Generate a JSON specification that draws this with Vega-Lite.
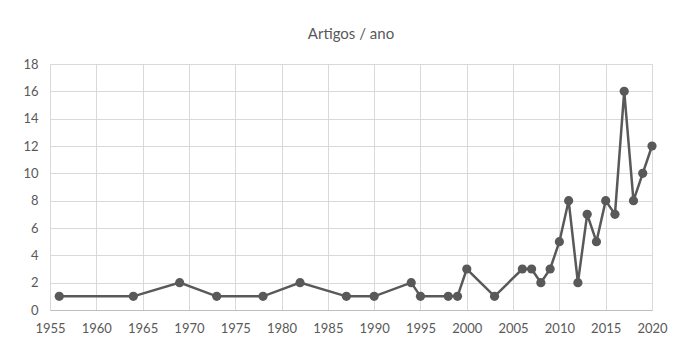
{
  "$schema": "https://vega.github.io/schema/vega-lite/v6.json",
  "width": 602,
  "height": 246,
  "autosize": {"type": "none"},
  "padding": {"left": 50, "top": 64, "right": 42, "bottom": 48},
  "background": "white",
  "title": {"text": "Artigos / ano", "font": "Lato", "fontSize": 15, "fontWeight": "normal", "color": "#595959", "offset": 16, "anchor": "middle"},
  "data": {"values": [
    {"ano": 1956, "artigos": 1}, {"ano": 1964, "artigos": 1}, {"ano": 1969, "artigos": 2},
    {"ano": 1973, "artigos": 1}, {"ano": 1978, "artigos": 1}, {"ano": 1982, "artigos": 2},
    {"ano": 1987, "artigos": 1}, {"ano": 1990, "artigos": 1}, {"ano": 1994, "artigos": 2},
    {"ano": 1995, "artigos": 1}, {"ano": 1998, "artigos": 1}, {"ano": 1999, "artigos": 1},
    {"ano": 2000, "artigos": 3}, {"ano": 2003, "artigos": 1}, {"ano": 2006, "artigos": 3},
    {"ano": 2007, "artigos": 3}, {"ano": 2008, "artigos": 2}, {"ano": 2009, "artigos": 3},
    {"ano": 2010, "artigos": 5}, {"ano": 2011, "artigos": 8}, {"ano": 2012, "artigos": 2},
    {"ano": 2013, "artigos": 7}, {"ano": 2014, "artigos": 5}, {"ano": 2015, "artigos": 8},
    {"ano": 2016, "artigos": 7}, {"ano": 2017, "artigos": 16}, {"ano": 2018, "artigos": 8},
    {"ano": 2019, "artigos": 10}, {"ano": 2020, "artigos": 12}
  ]},
  "mark": {"type": "line", "color": "#595959", "strokeWidth": 2.5, "point": {"filled": true, "color": "#595959", "size": 85, "opacity": 1}},
  "encoding": {
    "x": {"field": "ano", "type": "quantitative", "scale": {"domain": [1955, 2020], "nice": false, "zero": false},
      "axis": {"title": null, "values": [1955,1960,1965,1970,1975,1980,1985,1990,1995,2000,2005,2010,2015,2020], "format": "d", "ticks": false, "labelPadding": 12, "labelFlush": false, "labelOverlap": false, "domainColor": "#bfbfbf", "gridColor": "#d9d9d9", "labelFont": "Lato", "labelFontSize": 13, "labelColor": "#595959"}},
    "y": {"field": "artigos", "type": "quantitative", "scale": {"domain": [0, 18], "nice": false},
      "axis": {"title": null, "values": [0,2,4,6,8,10,12,14,16,18], "ticks": false, "labelPadding": 12, "domain": false, "gridColor": "#d9d9d9", "labelFont": "Lato", "labelFontSize": 13, "labelColor": "#595959"}}
  },
  "config": {"view": {"stroke": null}, "axis": {"gridWidth": 1}}
}
